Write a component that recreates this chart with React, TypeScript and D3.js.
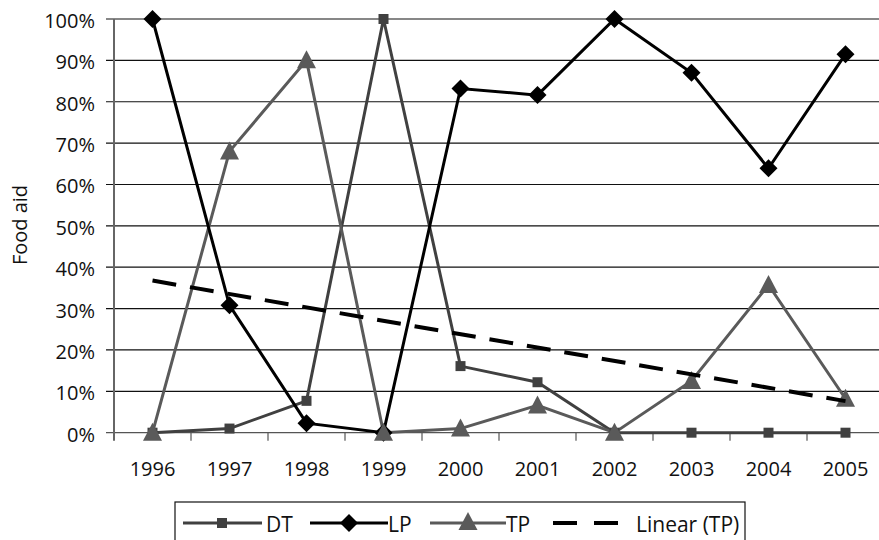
import React from "react";
import * as d3 from "d3";

const years = ["1996", "1997", "1998", "1999", "2000", "2001", "2002", "2003", "2004", "2005"];
const dtValues = [0, 1.0, 7.7, 100, 16.1, 12.2, 0, 0, 0, 0];
const lpValues = [100, 30.8, 2.3, 0, 83.2, 81.6, 100, 87, 63.9, 91.5];
const tpValues = [0, 68, 90, 0, 1, 6.6, 0, 12.5, 35.7, 8.2];
const yTicks = [0, 10, 20, 30, 40, 50, 60, 70, 80, 90, 100];
const yLabel = "Food aid";
const legendLabels = ["DT", "LP", "TP", "Linear (TP)"];

const W = 879;
const H = 540;
const left = 114;
const right = 884;
const top = 19;
const bottom = 432.7;
const FONT = "'Open Sans', 'Noto Sans', sans-serif";
const FS = 20;
const LFS = 21;

const DT_COLOR = "#404040";
const LP_COLOR = "#000000";
const TP_COLOR = "#5a5a5a";

export default function App() {
  const x = d3.scaleBand<string>().domain(years).range([left, right]);
  const cx = (y: string) => (x(y) as number) + x.bandwidth() / 2;
  const yS = d3.scaleLinear().domain([0, 100]).range([bottom, top]);

  const line = d3
    .line<number>()
    .x((_, i) => cx(years[i]))
    .y((d) => yS(d));

  // linear trend of TP
  const n = tpValues.length;
  const xs = tpValues.map((_, i) => i + 1);
  const mx = d3.mean(xs) as number;
  const my = d3.mean(tpValues) as number;
  const sxy = d3.sum(xs.map((xi, i) => (xi - mx) * (tpValues[i] - my)));
  const sxx = d3.sum(xs.map((xi) => (xi - mx) ** 2));
  const slope = sxy / sxx;
  const intercept = my - slope * mx;
  const trend = [intercept + slope * 1, intercept + slope * n];

  const square = (px: number, py: number, color: string, key: any) => (
    <rect key={key} x={px - 5} y={py - 5} width={10} height={10} fill={color} />
  );
  const diamond = (px: number, py: number, key: any) => (
    <path key={key} d={`M${px},${py - 9}L${px + 9},${py}L${px},${py + 9}L${px - 9},${py}Z`} fill={LP_COLOR} />
  );
  const triangle = (px: number, py: number, key: any) => (
    <path key={key} d={`M${px},${py - 10}L${px + 9.5},${py + 8}L${px - 9.5},${py + 8}Z`} fill={TP_COLOR} />
  );

  const legendY = 523;
  const lt = (xPos: number, label: string) => (
    <text x={xPos} y={legendY + 0.5} dominantBaseline="central" fontSize={LFS} fill="#111">
      {label}
    </text>
  );

  return (
    <svg width={W} height={H} style={{ position: "absolute", left: 0, top: 0, fontFamily: FONT }}>
      <rect x={0} y={0} width={W} height={H} fill="#fff" />
      {/* gridlines */}
      {yTicks.map((t) => (
        <g key={t}>
          <line x1={106} x2={right} y1={yS(t)} y2={yS(t)} stroke={t === 0 ? "#555" : "#111"} strokeWidth={1.2} />
          <text x={95} y={yS(t) + 1.5} textAnchor="end" dominantBaseline="central" fontSize={FS} fill="#111">
            {t}%
          </text>
        </g>
      ))}
      {/* y axis */}
      <line x1={left} x2={left} y1={top} y2={bottom + 8} stroke="#666" strokeWidth={2} />
      {/* x ticks */}
      {years.map((yr) => (
        <g key={yr}>
          <line x1={x(yr)! + x.bandwidth()} x2={x(yr)! + x.bandwidth()} y1={bottom} y2={bottom + 8} stroke="#555" strokeWidth={1.2} />
          <text x={cx(yr)} y={468} textAnchor="middle" dominantBaseline="central" fontSize={FS} fill="#111">
            {yr}
          </text>
        </g>
      ))}
      <text
        transform={`translate(19,225) rotate(-90)`}
        textAnchor="middle"
        dominantBaseline="central"
        fontSize={FS}
        fill="#111"
      >
        {yLabel}
      </text>

      {/* series */}
      <path d={line(dtValues) || ""} fill="none" stroke={DT_COLOR} strokeWidth={3} />
      <path d={line(tpValues) || ""} fill="none" stroke={TP_COLOR} strokeWidth={3} />
      <path d={line(lpValues) || ""} fill="none" stroke={LP_COLOR} strokeWidth={3} />
      {dtValues.map((v, i) => square(cx(years[i]), yS(v), DT_COLOR, "s" + i))}
      {lpValues.map((v, i) => diamond(cx(years[i]), yS(v), "d" + i))}
      {tpValues.map((v, i) => triangle(cx(years[i]), yS(v), "t" + i))}
      <line
        x1={cx(years[0])}
        x2={cx(years[n - 1])}
        y1={yS(trend[0])}
        y2={yS(trend[1])}
        stroke="#000"
        strokeWidth={4}
        strokeDasharray="24 14"
      />

      {/* legend */}
      <rect x={175} y={502} width={570} height={50} fill="#fff" stroke="#111" strokeWidth={1.2} />
      <line x1={183} x2={262} y1={legendY} y2={legendY} stroke={DT_COLOR} strokeWidth={3} />
      {square(222, legendY, DT_COLOR, "ls")}
      {lt(266, legendLabels[0])}
      <line x1={310} x2={388} y1={legendY} y2={legendY} stroke={LP_COLOR} strokeWidth={3} />
      {diamond(349, legendY, "ld")}
      {lt(388, legendLabels[1])}
      <line x1={430} x2={506} y1={legendY} y2={legendY} stroke={TP_COLOR} strokeWidth={3} />
      {triangle(468, legendY - 1, "lt")}
      {lt(506, legendLabels[2])}
      <line x1={553} x2={618} y1={legendY} y2={legendY} stroke="#000" strokeWidth={4} strokeDasharray="24 17" />
      {lt(636, legendLabels[3])}
    </svg>
  );
}
